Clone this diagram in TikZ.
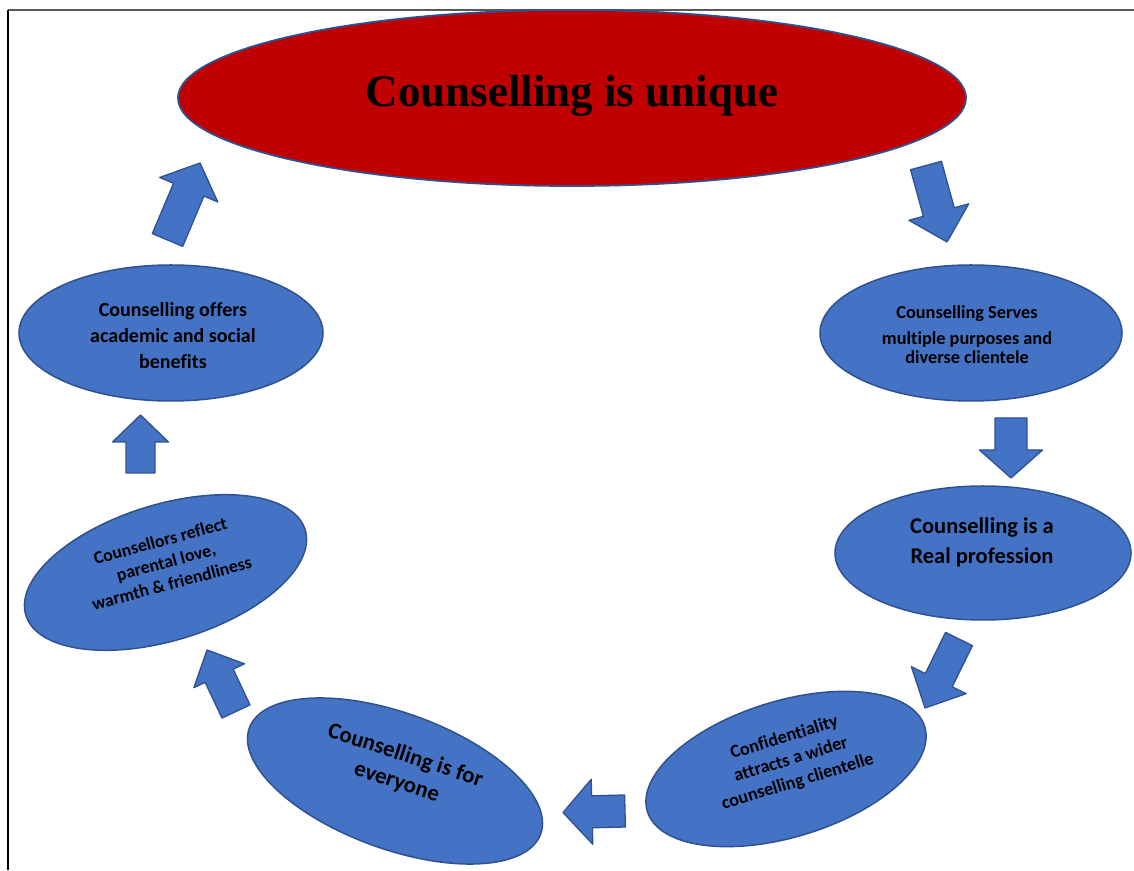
\documentclass[tikz,border=0pt]{standalone}
\usepackage{fontspec}
\setmainfont{Carlito}[Ligatures={NoCommon}]
\newfontfamily\titlefont{Liberation Serif}
\usetikzlibrary{shapes.geometric}
\definecolor{cblue}{HTML}{4472C4}
\definecolor{cedge}{HTML}{2F528F}
\definecolor{cred}{HTML}{C00000}
\tikzset{
  bubble/.style={ellipse, draw=cedge, line width=1.5pt, fill=cblue, inner sep=0pt},
  redbubble/.style={ellipse, draw=cedge, line width=1.8pt, fill=cred, inner sep=0pt},
  bubbletext/.style={align=center, text=black, font=\bfseries},
  barrowstyle/.style={draw=cedge, line width=1.3pt, fill=cblue, line join=round},
  frameline/.style={line width=1.5pt}
}
% tail x, tail y, angle, length, shaft half-width, head half-width, head length
\newcommand\barrow[7]{%
  \begin{scope}[shift={(#1,#2)}, rotate=#3]
    \draw[barrowstyle] (0,-#5) -- ({#4-#7},-#5) -- ({#4-#7},-#6) -- (#4,0)
      -- ({#4-#7},#6) -- ({#4-#7},#5) -- (0,#5) -- cycle;
  \end{scope}}
\begin{document}
\begin{tikzpicture}[x=1pt,y=1pt]
\useasboundingbox (0,0) rectangle (1134,870);
\fill[white] (0,0) rectangle (1134,870);
% frame
\draw[frameline, black!65] (8,860) -- (1134,860);
\draw[frameline, black] (8,860) -- (8,0);

% top ellipse
\node[redbubble, minimum width=788pt, minimum height=176pt] (top) at (572,772) {};
\node[font=\titlefont\bfseries\fontsize{45}{50}\selectfont] (toptext) at (572,774) {Counselling is unique};

% right column
\node[bubble, minimum width=302pt, minimum height=136pt] (e1) at (971,537) {};
\node[bubbletext, font=\bfseries\fontsize{18.3}{19}\selectfont] (t1) at (967,535)
  {Counselling Serves\\[7pt] multiple purposes and\\ diverse clientele};

\node[bubble, minimum width=296pt, minimum height=134pt] (e2) at (983,317) {};
\node[bubbletext, font=\bfseries\fontsize{22.5}{30}\selectfont] (t2) at (982,328)
  {Counselling is a\\ Real profession};

\node[bubble, minimum width=290pt, minimum height=136pt, rotate=17] (e3) at (786,101) {};
\node[bubbletext, font=\bfseries\fontsize{18.2}{23}\selectfont, rotate=17] (t3) at (791,110)
  {Confidentiality\\ attracts a wider\\ counselling clientelle};

% bottom left
\node[bubble, minimum width=310pt, minimum height=136pt, rotate=-20] (e4) at (395,89) {};
\node[bubbletext, font=\bfseries\fontsize{22.8}{28}\selectfont, rotate=-18] (t4) at (401,101)
  {Counselling is for\\ everyone};

\node[bubble, minimum width=292pt, minimum height=136pt, rotate=17] (e5) at (165.5,297.5) {};
\node[bubbletext, font=\bfseries\fontsize{17.8}{22}\selectfont, rotate=15] (t5) at (166,308)
  {Counsellors reflect\\ parental love,\\ warmth \& friendliness};

\node[bubble, minimum width=304pt, minimum height=136pt] (e6) at (171,537) {};
\node[bubbletext, font=\bfseries\fontsize{20}{26}\selectfont] (t6) at (173,534)
  {Counselling offers\\ academic and social\\ benefits};

% block arrows
\barrow{167.5}{630}{67.1}{83.6}{16.5}{31.5}{29}
\barrow{926}{704.5}{-74.6}{79.3}{16}{31}{31}
\barrow{1011}{452}{-90}{60}{16}{31.5}{28}
\barrow{959}{231}{-116.2}{76.9}{15}{30.5}{31}
\barrow{625}{59}{181.4}{62}{16}{32.5}{29}
\barrow{236}{158.5}{115.2}{68}{15.5}{28}{28.5}
\barrow{140.5}{397}{90}{58}{14.5}{28}{27}
\end{tikzpicture}
\end{document}
